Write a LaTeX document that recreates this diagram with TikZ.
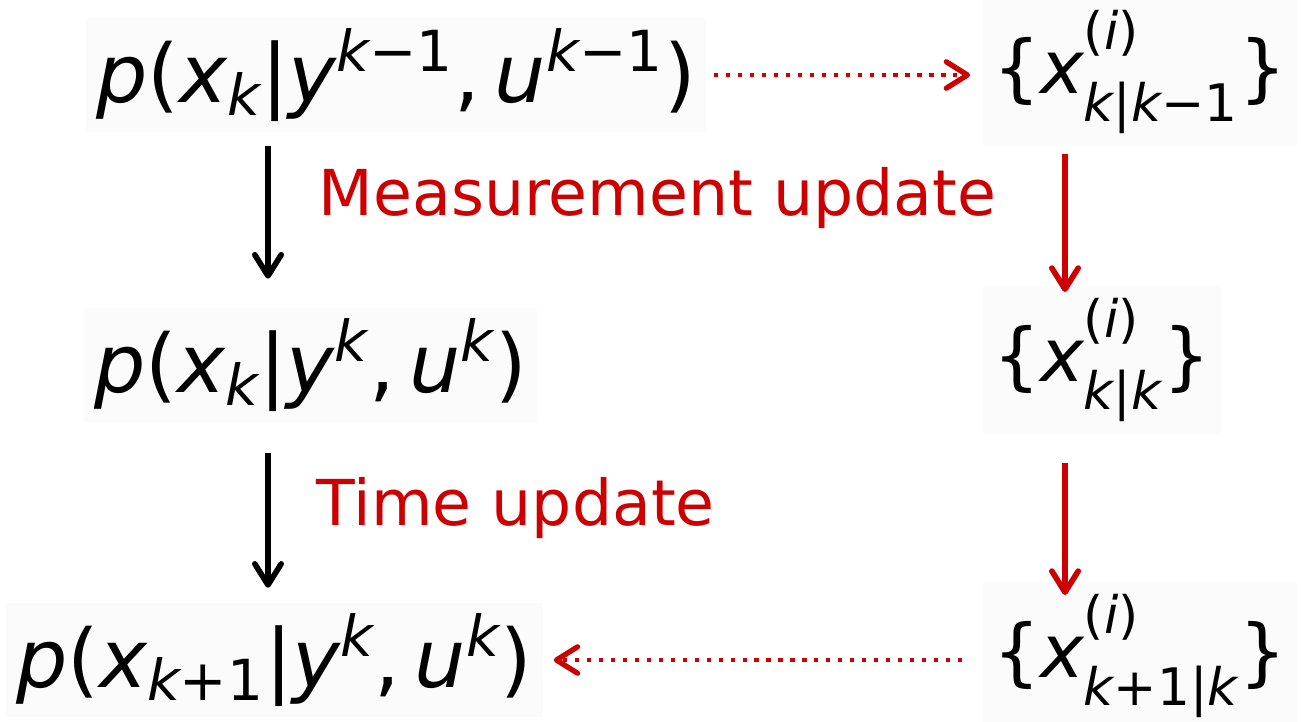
\documentclass[tikz,border=0pt]{standalone}
\usepackage{fontspec}
\setmainfont{DejaVu Sans}
\usepackage{amsmath}
\usetikzlibrary{arrows.meta,positioning}

\definecolor{updred}{HTML}{CC0000}
\newcommand{\iv}[1]{\text{\itshape #1}}
\newcommand{\ur}[1]{\text{#1}}
\newcommand{\hi}[1]{\text{\raisebox{5pt}{#1}}}
\newcommand{\lo}[1]{\text{\raisebox{-3pt}{#1}}}

\tikzstyle{dens} = [fill=black!1.5, inner sep=3pt, anchor=west, font=\fontsize{23}{27}\selectfont]
\tikzstyle{part} = [dens, font=\fontsize{21}{25}\selectfont]
\tikzstyle{upd} = [text=updred, anchor=west, inner sep=0pt, font=\fontsize{18}{22}\selectfont]
\tikzstyle{flow} = [line width=1.6pt, -{Straight Barb[round,length=6pt,width=7.5pt]}]
\tikzstyle{redflow} = [flow, draw=updred]
\tikzstyle{dotflow} = [draw=updred, line width=1.3pt, line cap=butt, dash pattern=on 1.2pt off 2.2pt,
    -{Straight Barb[round,length=6pt,width=7.5pt,line width=1.5pt]}]

\begin{document}
\begin{tikzpicture}[x=0.01cm, y=-0.01cm]
\useasboundingbox (0,0) rectangle (1301,721);
%columns of the arrows
\coordinate (lcol) at (268,0);
\coordinate (rcol) at (1065,0);
%begin densities
\node[dens] (pred) at (85,75)
    {$\iv{p}\ur{(}\iv{x}_{\iv{k}}\ur{|}\iv{y}^{\iv{k}\ur{−1}}\ur{,}\,\iv{u}^{\iv{k}\ur{−1}}\ur{)}$};
\node[dens] (filt) at (83,365)
    {$\iv{p}\ur{(}\iv{x}_{\iv{k}}\ur{|}\iv{y}^{\iv{k}}\ur{,}\,\iv{u}^{\iv{k}}\ur{)}$};
\node[dens] (next) at (5,660)
    {$\iv{p}\ur{(}\iv{x}_{\iv{k}\ur{+1}}\ur{|}\iv{y}^{\iv{k}}\ur{,}\,\iv{u}^{\iv{k}}\ur{)}$};
%end densities
%begin particles
\node[part] (ppred) at (982,72)
    {$\ur{\{}\iv{x}^{\hi{(\itshape i\upshape)}}_{\lo{\itshape k\upshape|\itshape k\upshape−1}}\ur{\}}$};
\node[part] (pfilt) at (982,360)
    {$\ur{\{}\iv{x}^{\hi{(\itshape i\upshape)}}_{\lo{\itshape k\upshape|\itshape k}}\ur{\}}$};
\node[part] (pnext) at (982,656)
    {$\ur{\{}\iv{x}^{\hi{(\itshape i\upshape)}}_{\lo{\itshape k\upshape+1|\itshape k}}\ur{\}}$};
%end particles
%begin labels
\node[upd] (meas) at (318,198) {Measurement update};
\node[upd] (time) at (316,508) {Time update};
%end labels
%begin arrows
\draw[flow, shorten <=3.7pt, shorten >=8pt] (pred.south -| lcol) -- (filt.north -| lcol);
\draw[flow, shorten <=8.5pt, shorten >=4pt] (filt.south -| lcol) -- (next.north -| lcol);
\draw[redflow, shorten <=2.5pt, shorten >=-1.5pt] (ppred.south -| rcol) -- (pfilt.north -| rcol);
\draw[redflow, shorten <=8.5pt, shorten >=-3.5pt] (pfilt.south -| rcol) -- (pnext.north -| rcol);
\draw[dotflow, shorten <=2pt, shorten >=3.4pt] (pred.east) -- (ppred.west |- pred.east);
\draw[dotflow, shorten <=5.7pt, shorten >=2.9pt] (pnext.west |- next.east) -- (next.east);
%end arrows
\end{tikzpicture}
\end{document}
